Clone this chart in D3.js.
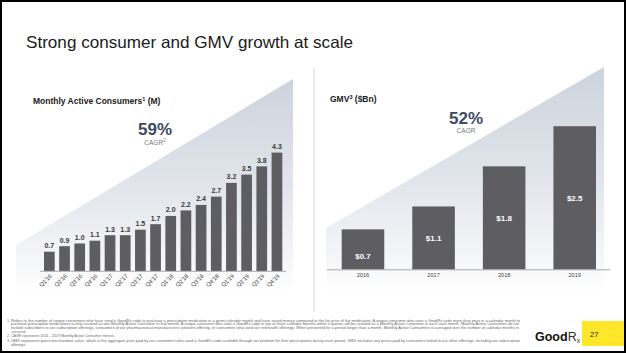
<!DOCTYPE html>
<html>
<head>
<meta charset="utf-8">
<script src="https://cdn.jsdelivr.net/npm/d3@7"></script>
<style>
  html, body { margin: 0; padding: 0; background: #fff; }
  svg { display: block; font-family: "Liberation Sans", Arial, sans-serif; }
</style>
</head>
<body>
<div id="chart"></div>
<script>
// --- data ---
var quarters = ["Q1'16","Q2'16","Q3'16","Q4'16","Q1'17","Q2'17","Q3'17","Q4'17",
                "Q1'18","Q2'18","Q3'18","Q4'18","Q1'19","Q2'19","Q3'19","Q4'19"];
var macValues = [0.7, 0.9, 1.0, 1.1, 1.3, 1.3, 1.5, 1.7, 2.0, 2.2, 2.4, 2.7, 3.2, 3.5, 3.8, 4.3];
var years = ["2016", "2017", "2018", "2019"];
var gmvValues = [0.7, 1.1, 1.8, 2.5];
var footnotes = [
  ["1.", "Refers to the number of unique consumers who have used a GoodRx code to purchase a prescription medication in a given calendar month and have saved money compared to the list price of the medication. A unique consumer who uses a GoodRx code more than once in a calendar month to"],
  ["", "purchase prescription medications is only counted as one Monthly Active Consumer in that month. A unique consumer who uses a GoodRx code in two or three calendar months within a quarter will be counted as a Monthly Active Consumer in each such month. Monthly Active Consumers do not"],
  ["", "include subscribers to our subscription offerings, consumers of our pharmaceutical manufacturers solutions offering, or consumers who used our telehealth offerings. When presented for a period longer than a month, Monthly Active Consumers is averaged over the number of calendar months in"],
  ["", "such period."],
  ["2.", "CAGR represents 2016 \u2013 2019 Monthly Active Consumer metrics."],
  ["3.", "GMV represents gross merchandise value, which is the aggregate price paid by our consumers who used a GoodRx code available through our platform for their prescriptions during such period. GMV excludes any prices paid by consumers linked to our other offerings, including our subscription"],
  ["", "offerings."]
];

var W = 626, H = 353;
var barColor = "#5e5d62";

var svg = d3.select("#chart").append("svg")
  .attr("width", W)
  .attr("height", H);

// --- background triangles ---
var defs = svg.append("defs");
var grad = defs.append("linearGradient")
  .attr("id", "tri")
  .attr("x1", 0).attr("y1", 0).attr("x2", 0).attr("y2", 1);
grad.append("stop").attr("offset", "0%").attr("stop-color", "#cdd3dd");
grad.append("stop").attr("offset", "50%").attr("stop-color", "#e1e5eb");
grad.append("stop").attr("offset", "85%").attr("stop-color", "#f5f6f8");
grad.append("stop").attr("offset", "100%").attr("stop-color", "#ffffff");

svg.append("polygon")
  .attr("points", "16,245 293,79 293,292 16,292")
  .attr("fill", "url(#tri)");
svg.append("polygon")
  .attr("points", "326,228 604,67 604,292 326,292")
  .attr("fill", "url(#tri)");

// divider
svg.append("line")
  .attr("x1", 314).attr("x2", 314)
  .attr("y1", 68).attr("y2", 312)
  .attr("stroke", "#e4e4e4").attr("stroke-width", 1.5);

// title
svg.append("text")
  .attr("x", 26).attr("y", 48)
  .attr("font-size", 16.5)
  .attr("fill", "#1a1a1a")
  .attr("textLength", 327)
  .attr("lengthAdjust", "spacingAndGlyphs")
  .text("Strong consumer and GMV growth at scale");

// --- left chart: Monthly Active Consumers ---
var xL = d3.scaleBand()
  .domain(quarters)
  .range([44, 282.3])
  .paddingInner(0.295)
  .paddingOuter(0);
var yL = d3.scaleLinear()
  .domain([0, 4.3])
  .range([271, 152.6]);

var gL = svg.append("g");
gL.selectAll("rect")
  .data(macValues)
  .enter()
  .append("rect")
  .attr("x", (d, i) => xL(quarters[i]))
  .attr("y", d => yL(d))
  .attr("width", xL.bandwidth())
  .attr("height", d => yL(0) - yL(d))
  .attr("fill", barColor);

gL.selectAll("text.val")
  .data(macValues)
  .enter()
  .append("text")
  .attr("class", "val")
  .attr("x", (d, i) => xL(quarters[i]) + xL.bandwidth() / 2)
  .attr("y", d => yL(d) - 3.5)
  .attr("text-anchor", "middle")
  .attr("font-size", 7)
  .attr("font-weight", "bold")
  .attr("fill", "#3a3a3a")
  .text(d => d.toFixed(1));

svg.append("line")
  .attr("x1", 40).attr("x2", 286)
  .attr("y1", 271.3).attr("y2", 271.3)
  .attr("stroke", "#a9a9a9").attr("stroke-width", 1);

var axL = svg.append("g")
  .attr("transform", "translate(0,272)")
  .call(d3.axisBottom(xL).tickSize(0).tickPadding(0));
axL.select(".domain").remove();
axL.selectAll("text")
  .attr("font-size", 5.8)
  .attr("font-family", "'Liberation Sans', Arial, sans-serif")
  .attr("fill", "#444")
  .attr("text-anchor", "end")
  .attr("dy", null)
  .attr("y", 0)
  .attr("transform", "translate(3,4.5) rotate(-45)");

svg.append("text")
  .attr("x", 33).attr("y", 104)
  .attr("font-size", 8.5)
  .attr("font-weight", "bold")
  .attr("fill", "#1a1a1a")
  .text("Monthly Active Consumers")
  .append("tspan").attr("font-size", 5.5).attr("dy", -3).text("1")
  .select(function() { return this.parentNode; })
  .append("tspan").attr("dy", 3).text(" (M)");

svg.append("text")
  .attr("x", 155).attr("y", 135)
  .attr("text-anchor", "middle")
  .attr("font-size", 17)
  .attr("font-weight", "bold")
  .attr("fill", "#3c4a63")
  .text("59%");
svg.append("text")
  .attr("x", 155).attr("y", 144.5)
  .attr("text-anchor", "middle")
  .attr("font-size", 6.5)
  .attr("fill", "#777")
  .text("CAGR")
  .append("tspan").attr("font-size", 4.5).attr("dy", -2.2).text("2");

// --- right chart: GMV ---
var xR = d3.scaleBand()
  .domain(years)
  .range([341.7, 596])
  .paddingInner(0.397)
  .paddingOuter(0);
var yR = d3.scaleLinear()
  .domain([0, 2.5])
  .range([269.5, 126.2]);

var gR = svg.append("g");
gR.selectAll("rect")
  .data(gmvValues)
  .enter()
  .append("rect")
  .attr("x", (d, i) => xR(years[i]))
  .attr("y", d => yR(d))
  .attr("width", xR.bandwidth())
  .attr("height", d => yR(0) - yR(d))
  .attr("fill", barColor);

gR.selectAll("text.val")
  .data(gmvValues)
  .enter()
  .append("text")
  .attr("class", "val")
  .attr("x", (d, i) => xR(years[i]) + xR.bandwidth() / 2)
  .attr("y", d => Math.max((yR(d) + yR(0)) / 2 + 3, yR(d) + 30))
  .attr("text-anchor", "middle")
  .attr("font-size", 8)
  .attr("font-weight", "bold")
  .attr("fill", "#fff")
  .text(d => "$" + d.toFixed(1));

svg.append("line")
  .attr("x1", 327).attr("x2", 610)
  .attr("y1", 269.8).attr("y2", 269.8)
  .attr("stroke", "#a9a9a9").attr("stroke-width", 1);

var axR = svg.append("g")
  .attr("transform", "translate(0,273)")
  .call(d3.axisBottom(xR).tickSize(0).tickPadding(0));
axR.select(".domain").remove();
axR.selectAll("text")
  .attr("font-size", 5.6)
  .attr("font-family", "'Liberation Sans', Arial, sans-serif")
  .attr("fill", "#444")
  .attr("dy", "0.71em");

svg.append("text")
  .attr("x", 330).attr("y", 102)
  .attr("font-size", 8.5)
  .attr("font-weight", "bold")
  .attr("fill", "#1a1a1a")
  .text("GMV")
  .append("tspan").attr("font-size", 5.5).attr("dy", -3).text("3")
  .select(function() { return this.parentNode; })
  .append("tspan").attr("dy", 3).text(" ($Bn)");

svg.append("text")
  .attr("x", 466).attr("y", 124)
  .attr("text-anchor", "middle")
  .attr("font-size", 17)
  .attr("font-weight", "bold")
  .attr("fill", "#3c4a63")
  .text("52%");
svg.append("text")
  .attr("x", 466).attr("y", 133)
  .attr("text-anchor", "middle")
  .attr("font-size", 6.5)
  .attr("fill", "#777")
  .text("CAGR");

// --- footnotes ---
var fnEnds = [520, 519, 519, 26, 115, 520, 26];
var fn = svg.append("g").attr("fill", "#666").attr("font-size", 3.6);
footnotes.forEach(function(f, i) {
  var y = 321.5 + i * 3.8 + (i >= 4 ? 0.5 : 0) + (i >= 5 ? 0.8 : 0);
  if (f[0]) fn.append("text").attr("x", 7).attr("y", y).text(f[0]);
  fn.append("text")
    .attr("x", 11).attr("y", y)
    .attr("textLength", fnEnds[i] - 11)
    .attr("lengthAdjust", "spacingAndGlyphs")
    .text(f[1]);
});

// --- logo and page number ---
var logo = svg.append("text")
  .attr("x", 535).attr("y", 341)
  .attr("font-size", 12.5)
  .attr("fill", "#111");
logo.append("tspan").attr("font-weight", "bold").text("Good");
logo.append("tspan").attr("font-weight", "normal").attr("fill", "#333").text("R");
logo.append("tspan").attr("font-size", 7).attr("dy", 2).attr("fill", "#333").text("x");

svg.append("rect")
  .attr("x", 582).attr("y", 321)
  .attr("width", 42).attr("height", 25)
  .attr("fill", "#ffe629");
svg.append("text")
  .attr("x", 590).attr("y", 337)
  .attr("font-size", 7.5)
  .attr("fill", "#222")
  .text("27");

// frame
svg.append("rect")
  .attr("x", 1).attr("y", 1)
  .attr("width", W - 2).attr("height", H - 2)
  .attr("fill", "none")
  .attr("stroke", "#000")
  .attr("stroke-width", 2);
</script>
</body>
</html>
